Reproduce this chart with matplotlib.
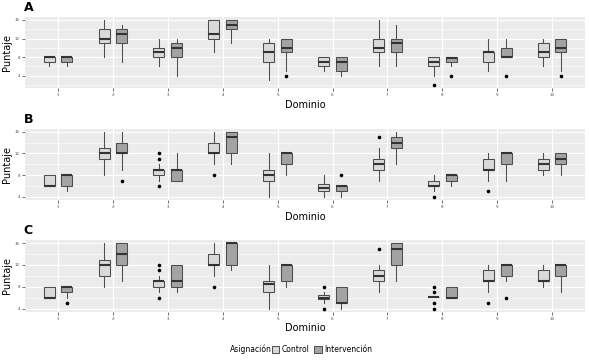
import numpy as np
import matplotlib.pyplot as plt
from matplotlib.patches import Patch
from matplotlib.ticker import AutoMinorLocator

plt.rcParams['font.family'] = ['Liberation Sans Narrow', 'DejaVu Sans']

dominios = list(range(1, 11))
grupos = ["Control", "Intervención"]
colores = ["#D9D9D9", "#A3A3A3"]

# (bigote inf, Q1, mediana, Q3, bigote sup) por dominio
a_control = [(6, 7, 8, 8, 8), (8, 11, 12, 14, 16), (6, 8, 9, 10, 12), (9, 12, 13, 16, 16),
             (3, 7, 9, 11, 12), (5, 6, 7, 8, 8), (6, 9, 10, 12, 16), (4, 6, 7, 8, 8),
             (5, 7, 9, 9, 12), (6, 8, 9, 11, 12)]
a_control_out = [[], [], [], [], [], [], [], [2], [], []]
a_interv = [(6, 7, 8, 8, 8), (7, 11, 13, 14, 15), (4, 8, 10, 11, 12), (11, 14, 15, 16, 16),
            (5, 9, 10, 12, 12), (4, 5, 7, 8, 8), (6, 9, 11, 12, 15), (6, 7, 7.7, 8, 8),
            (8, 8, 8, 10, 12), (5, 9, 10, 12, 12)]
a_interv_out = [[], [], [], [], [4], [], [], [4], [4], [4]]

b_control = [(6, 6, 6, 8, 8), (8, 11, 12, 13, 16), (7, 8, 9, 9, 10), (10, 12, 12, 14, 16),
             (4, 7, 8, 9, 12), (4, 5, 5.7, 6.3, 8), (7, 9, 10, 11, 13), (5, 6, 6, 7, 8),
             (7, 9, 9, 11, 12), (8, 9, 10, 11, 12)]
b_control_out = [[], [], [12, 11, 6], [8], [], [], [15], [4], [5], []]
b_interv = [(5, 6, 8, 8, 8), (9, 12, 12, 14, 16), (7, 7, 9, 9, 12), (10, 12, 15, 16, 16),
            (8, 10, 12, 12, 12), (4, 5, 6, 6, 6), (10, 13, 14, 15, 16), (6, 7, 8, 8, 8),
            (7, 10, 12, 12, 12), (8, 10, 11, 12, 12)]
b_interv_out = [[], [7], [], [], [], [8], [], [], [], []]

c_control = [(6, 6, 6, 8, 8), (8, 10, 12, 13, 16), (7, 8, 9, 9, 10), (10, 12, 12, 14, 16),
             (4, 7, 8.5, 9, 12), (5, 5.8, 6, 6.5, 7), (7, 9, 10, 11, 12), (6.2, 6.2, 6.2, 6.2, 6.2),
             (7, 9, 9, 11, 12), (8, 9, 9, 11, 12)]
c_control_out = [[], [], [12, 11, 6], [8], [], [8, 4], [15], [8, 7, 5, 4], [5], []]
c_interv = [(6, 7, 8, 8, 8), (9, 12, 14, 16, 16), (7, 8, 9, 12, 12), (11, 12, 16, 16, 16),
            (8, 9, 12, 12, 12), (4, 5, 5, 8, 8), (9, 12, 15, 16, 16), (6, 6, 6, 8, 8),
            (9, 10, 12, 12, 12), (7, 10, 12, 12, 12)]
c_interv_out = [[5], [], [], [], [], [], [], [], [6], []]

paneles = [
    ("A", a_control, a_control_out, a_interv, a_interv_out, (1.3, 16.7), [0.0424, 0.757, 0.951, 0.197]),
    ("B", b_control, b_control_out, b_interv, b_interv_out, (3.4, 16.6), [0.0424, 0.449, 0.951, 0.197]),
    ("C", c_control, c_control_out, c_interv, c_interv_out, (3.4, 16.6), [0.0424, 0.141, 0.951, 0.198]),
]


def stats(valores, atipicos):
    res = []
    for (lo, q1, med, q3, hi), out in zip(valores, atipicos):
        res.append(dict(whislo=lo, q1=q1, med=med, q3=q3, whishi=hi, fliers=out))
    return res


fig = plt.figure(figsize=(5.89, 3.63), dpi=100)

for letra, ctrl, ctrl_out, intv, intv_out, ylim, rect in paneles:
    ax = fig.add_axes(rect)
    ax.set_facecolor("#EBEBEB")
    ax.set_axisbelow(True)
    x = np.array(dominios)
    for datos, out, desp, color in [(ctrl, ctrl_out, -0.16, colores[0]), (intv, intv_out, 0.16, colores[1])]:
        ax.bxp(stats(datos, out), positions=x + desp, widths=0.2, patch_artist=True,
               showcaps=False, manage_ticks=False,
               boxprops=dict(facecolor=color, edgecolor="#4D4D4D", linewidth=0.75),
               medianprops=dict(color="#333333", linewidth=1.5),
               whiskerprops=dict(color="#4D4D4D", linewidth=0.75),
               flierprops=dict(marker="o", markersize=1.6, markerfacecolor="black",
                               markeredgecolor="black", linestyle="none"))
    ax.set_xlim(0.4, 10.6)
    ax.set_ylim(*ylim)
    ax.set_xticks(dominios)
    ax.set_xticklabels([str(d) for d in dominios])
    ax.set_yticks([4, 8, 12, 16])
    ax.yaxis.set_minor_locator(AutoMinorLocator(2))
    ax.grid(which="major", color="white", linewidth=0.9)
    ax.grid(which="minor", axis="y", color="white", linewidth=0.45)
    ax.tick_params(which="major", length=2, width=0.5, color="#333333", labelsize=3,
                   labelcolor="#4D4D4D", pad=1.5)
    ax.tick_params(which="minor", length=0)
    for s in ax.spines.values():
        s.set_visible(False)
    ax.set_xlabel("Dominio", fontsize=7, labelpad=2)
    ax.set_ylabel("Puntaje", fontsize=7, labelpad=2)
    ax.text(-0.002, 1.04, letra, transform=ax.transAxes, fontsize=9, fontweight="bold",
            ha="left", va="bottom")

fig.text(0.391, 0.038, "Asignación", fontsize=5.5, ha="left", va="center")
manejadores = [Patch(facecolor=colores[i], edgecolor="#4D4D4D", linewidth=0.7, label=grupos[i])
               for i in range(2)]
fig.legend(handles=manejadores, loc="center left", bbox_to_anchor=(0.461, 0.038), ncol=2,
           frameon=False, fontsize=5.5, handlelength=1.0, handleheight=1.0,
           handletextpad=0.3, columnspacing=0.6, borderaxespad=0, borderpad=0)

fig.savefig("out.png", dpi=100)
